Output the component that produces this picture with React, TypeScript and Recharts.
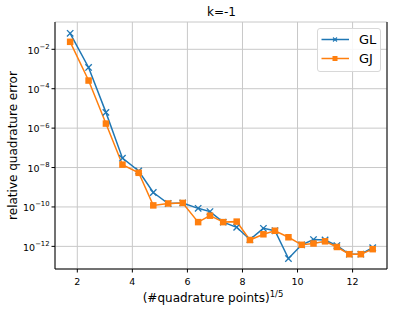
import React from "react";
import { LineChart, Line, XAxis, YAxis, CartesianGrid } from "recharts";

const xValues = [1.74, 2.41, 3.04, 3.64, 4.23, 4.76, 5.3, 5.83, 6.39, 6.82, 7.3, 7.79, 8.27, 8.76, 9.18, 9.67, 10.15, 10.58, 11.0, 11.43, 11.88, 12.3, 12.73];
const glValues = [6.5e-2, 1.2e-3, 6.3e-6, 3e-8, 6.7e-9, 5.4e-10, 1.5e-10, 1.6e-10, 8.5e-11, 5.8e-11, 1.7e-11, 9.3e-12, 2.2e-12, 8.2e-12, 6.2e-12, 2.4e-13, 1.2e-12, 2.2e-12, 2.1e-12, 1.1e-12, 4.0e-13, 4.0e-13, 8.5e-13];
const gjValues = [2.4e-2, 2.6e-4, 1.7e-6, 1.4e-8, 5.4e-9, 1.2e-10, 1.5e-10, 1.6e-10, 1.7e-11, 3.6e-11, 1.7e-11, 1.8e-11, 2.1e-12, 4.1e-12, 6.2e-12, 2.9e-12, 1.2e-12, 1.4e-12, 1.8e-12, 9.3e-13, 4.0e-13, 4.0e-13, 7.2e-13];
const xTicks = [2, 4, 6, 8, 10, 12];
const yTicks = [1e-12, 1e-10, 1e-8, 1e-6, 1e-4, 1e-2];
const seriesNames = ["GL", "GJ"];
const title = "k=-1";
const xLabel = "(#quadrature points)";
const xLabelSup = "1/5";
const yLabel = "relative quadrature error";

const BLUE = "#1f77b4";
const ORANGE = "#ff7f0e";
const FONT = "DejaVu Sans";
const X_DOMAIN: [number, number] = [1.19, 13.25];
const Y_DOMAIN: [number, number] = [7.1e-14, 0.243];

const data = xValues.map((x, i) => ({ x, GL: glValues[i], GJ: gjValues[i] }));

const CrossDot = (props: any) => {
  const { cx, cy } = props;
  if (cx == null || cy == null) return null;
  const r = 3.2;
  return (
    <g>
      <line x1={cx - r} y1={cy - r} x2={cx + r} y2={cy + r} stroke={BLUE} strokeWidth={1.3} />
      <line x1={cx - r} y1={cy + r} x2={cx + r} y2={cy - r} stroke={BLUE} strokeWidth={1.3} />
    </g>
  );
};

const SquareDot = (props: any) => {
  const { cx, cy } = props;
  if (cx == null || cy == null) return null;
  const s = 6.5;
  return <rect x={cx - s / 2} y={cy - s / 2} width={s} height={s} fill={ORANGE} />;
};

const YTick = (props: any) => {
  const { x, y, payload } = props;
  const e = Math.round(Math.log10(payload.value));
  return (
    <text x={x} y={y + 4.2} textAnchor="end" fontFamily={FONT} fontSize={9.5} fill="#000">
      <tspan>10</tspan>
      <tspan dy={-4.8} fontSize={6.8}>{"\u2212" + Math.abs(e)}</tspan>
    </text>
  );
};

const XTick = (props: any) => {
  const { x, y, payload } = props;
  return (
    <text x={x} y={y + 9} textAnchor="middle" fontFamily={FONT} fontSize={9.5} fill="#000">
      {payload.value}
    </text>
  );
};

const LegendBox = () => (
  <div
    style={{
      position: "absolute",
      left: 317,
      top: 28,
      width: 64,
      height: 44,
      boxSizing: "border-box",
      border: "1px solid #d8d8d8",
      borderRadius: 3,
      background: "rgba(255,255,255,0.85)",
      fontFamily: FONT,
    }}
  >
    <svg width={64} height={44} style={{ position: "absolute", left: -1, top: -1 }}>
      <line x1={4.5} y1={11.5} x2={32} y2={11.5} stroke={BLUE} strokeWidth={1.5} />
      <line x1={16} y1={9.5} x2={20} y2={13.5} stroke={BLUE} strokeWidth={1.1} />
      <line x1={16} y1={13.5} x2={20} y2={9.5} stroke={BLUE} strokeWidth={1.1} />
      <text x={42} y={16} fontFamily={FONT} fontSize={13} fill="#000">{seriesNames[0]}</text>
      <line x1={4.5} y1={30.5} x2={32} y2={30.5} stroke={ORANGE} strokeWidth={1.5} />
      <rect x={15.5} y={28} width={5} height={5} fill={ORANGE} />
      <text x={42} y={35} fontFamily={FONT} fontSize={13} fill="#000">{seriesNames[1]}</text>
    </svg>
  </div>
);

export default function App() {
  return (
    <div style={{ position: "absolute", left: 0, top: 0, width: 398, height: 311, background: "#fff" }}>
      <LineChart width={398} height={311} data={data} margin={{ top: 22, right: 10, left: 0, bottom: 0 }}>
        <CartesianGrid xAxisId="b" yAxisId="l" stroke="#c8c8c8" strokeWidth={1} />
        <XAxis
          xAxisId="b"
          dataKey="x"
          type="number"
          domain={X_DOMAIN}
          ticks={xTicks}
          allowDataOverflow
          height={42}
          tickSize={3.5}
          tickMargin={3}
          tick={<XTick />}
          stroke="#000"
          axisLine={{ stroke: "#000", strokeWidth: 1 }}
          tickLine={{ stroke: "#000" }}
          label={(p: any) => {
            const vb = p.viewBox;
            const cx = vb.x + vb.width / 2;
            return (
              <text x={cx - 8} y={302} textAnchor="middle" fontFamily={FONT} fontSize={12} fill="#000">
                <tspan>{xLabel}</tspan>
                <tspan dy={-5} fontSize={8.5}>{xLabelSup}</tspan>
              </text>
            );
          }}
        />
        <XAxis
          xAxisId="t"
          dataKey="x"
          type="number"
          orientation="top"
          domain={X_DOMAIN}
          allowDataOverflow
          height={0}
          tick={false}
          tickLine={false}
          axisLine={{ stroke: "#000", strokeWidth: 1 }}
        />
        <YAxis
          yAxisId="l"
          scale="log"
          type="number"
          domain={Y_DOMAIN}
          allowDataOverflow
          ticks={yTicks}
          width={55}
          tickSize={3.5}
          tickMargin={2}
          tick={<YTick />}
          axisLine={{ stroke: "#000", strokeWidth: 1 }}
          tickLine={{ stroke: "#000" }}
          label={(p: any) => {
            const vb = p.viewBox;
            const cy = vb.y + vb.height / 2;
            return (
              <text
                x={17}
                y={cy}
                transform={`rotate(-90, 17, ${cy})`}
                textAnchor="middle"
                fontFamily={FONT}
                fontSize={12}
                fill="#000"
              >
                {yLabel}
              </text>
            );
          }}
        />
        <YAxis
          yAxisId="r"
          orientation="right"
          scale="log"
          type="number"
          domain={Y_DOMAIN}
          allowDataOverflow
          width={1}
          tick={false}
          tickLine={false}
          axisLine={{ stroke: "#000", strokeWidth: 1 }}
        />
        <Line
          xAxisId="b"
          yAxisId="l"
          dataKey="GL"
          name={seriesNames[0]}
          stroke={BLUE}
          strokeWidth={1.5}
          dot={<CrossDot />}
          activeDot={false}
          isAnimationActive={false}
        />
        <Line
          xAxisId="b"
          yAxisId="l"
          dataKey="GJ"
          name={seriesNames[1]}
          stroke={ORANGE}
          strokeWidth={1.5}
          dot={<SquareDot />}
          activeDot={false}
          isAnimationActive={false}
        />
      </LineChart>
      <LegendBox />
      <div
        style={{
          position: "absolute",
          left: 55,
          width: 333,
          top: 5,
          textAlign: "center",
          fontFamily: FONT,
          fontSize: 12,
          color: "#000",
          lineHeight: "14px",
        }}
      >
        {title}
      </div>
    </div>
  );
}
